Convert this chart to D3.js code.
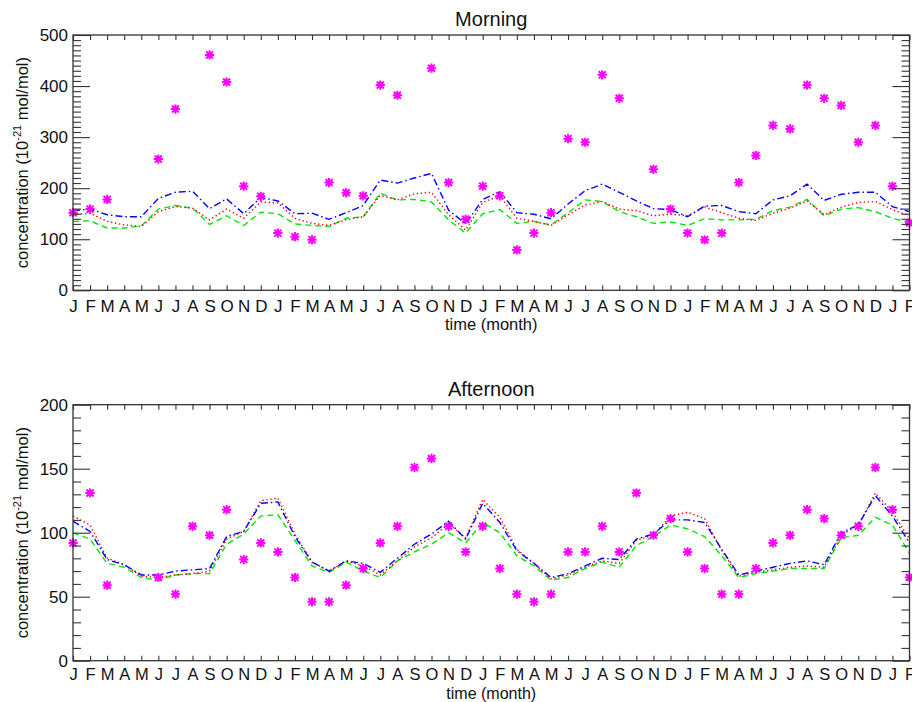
<!DOCTYPE html>
<html>
<head>
<meta charset="utf-8">
<script src="https://cdn.jsdelivr.net/npm/d3@7"></script>
<style>
  html, body { margin: 0; padding: 0; background: #fff; }
  svg { display: block; font-family: "Liberation Sans", Arial, Helvetica, sans-serif; }
</style>
</head>
<body>
<svg id="chart" width="912" height="702"></svg>
<script>
// Month tick labels, Jan of year 1 through Feb of year 5
const monthLabels = [
  "J","F","M","A","M","J","J","A","S","O","N","D",
  "J","F","M","A","M","J","J","A","S","O","N","D",
  "J","F","M","A","M","J","J","A","S","O","N","D",
  "J","F","M","A","M","J","J","A","S","O","N","D",
  "J","F"
];

// Morning: observations (null = no measurement) and three model runs
const morningObs = [152,159,178,null,null,257,355,null,461,408,204,184,112,105,99,211,191,185,402,382,null,435,211,139,204,185,79,112,152,297,290,422,376,null,237,159,112,99,112,211,264,323,316,402,376,362,290,323,204,132];
const morningBlue = [156,159,148,144,144,180,192,194,160,179,150,182,175,150,151,139,152,166,216,210,220,229,157,130,178,193,152,149,140,169,195,208,192,175,160,158,144,165,166,154,150,177,185,208,176,188,192,192,164,154];
const morningRed = [148,151,135,128,125,154,164,161,138,159,141,173,171,141,131,127,138,144,186,177,189,192,148,118,172,185,141,135,127,148,167,174,159,156,146,149,146,163,152,141,137,151,161,175,148,163,172,174,158,146];
const morningGreen = [135,136,122,122,126,159,166,161,129,146,127,153,150,130,127,125,141,144,190,177,178,173,138,112,150,158,131,135,128,152,177,174,154,144,131,134,127,140,138,138,139,156,163,178,146,159,162,154,141,133];

// Afternoon
const afternoonObs = [92,131,59,null,null,65,52,105,98,118,79,92,85,65,46,46,59,72,92,105,151,158,105,85,105,72,52,46,52,85,85,105,85,131,98,111,85,72,52,52,72,92,98,118,111,98,105,151,118,65];
const afternoonBlue = [109,101,79,75,67,67,70,71,72,97,101,123,124,97,77,70,78,76,69,80,91,99,109,95,123,108,86,76,65,68,74,80,79,95,99,110,110,108,87,67,70,73,76,78,75,100,106,129,113,92];
const afternoonRed = [113,106,80,75,66,65,67,68,70,95,101,125,127,99,77,70,78,74,67,78,89,96,107,96,126,112,87,76,64,67,73,78,76,94,98,113,116,111,86,66,69,71,73,74,73,98,106,131,116,95];
const afternoonGreen = [100,95,76,73,65,63,67,68,68,91,99,113,114,94,74,69,77,70,65,78,85,91,100,92,108,100,82,74,63,65,72,77,73,90,97,106,103,97,82,65,68,70,72,72,72,96,98,112,106,84];

const svg = d3.select("#chart");
const left = 73, right = 909.5;
const frameColor = "#333";

const x = d3.scaleLinear().domain([0, monthLabels.length - 1]).range([left, right]);

function panel(cfg) {
  const { top, bottom, yMax, major, title, monthPad, monthSize, xLabelGap, xLabelSize,
          obs, blue, red, green } = cfg;
  const y = d3.scaleLinear().domain([0, yMax]).range([bottom, top]);
  const g = svg.append("g");
  const idx = d3.range(monthLabels.length);
  const minor = d3.range(0, yMax + 1, 10).filter(v => v % major !== 0);
  const majorVals = d3.range(0, yMax + 1, major);

  // clip area for the model lines
  const clipId = "clip-" + title;
  svg.append("clipPath").attr("id", clipId)
    .append("rect").attr("x", left).attr("y", top).attr("width", right - left + 6).attr("height", bottom - top);

  // model lines
  const line = d3.line().x((d, i) => x(i)).y(d => y(d));
  const series = [
    { data: green, color: "#00e600", dash: "6,4" },
    { data: red, color: "#ff0000", dash: "1.4,2.6" },
    { data: blue, color: "#0000ff", dash: "7,3,1.5,3" }
  ];
  g.append("g").attr("clip-path", `url(#${clipId})`)
    .selectAll("path").data(series).join("path")
    .attr("d", s => line(s.data))
    .attr("fill", "none")
    .attr("stroke", s => s.color)
    .attr("stroke-width", 1.4)
    .attr("stroke-dasharray", s => s.dash);

  // observations as asterisks
  const star = "M-3.6,0H3.6M0,-3.6V3.6M-2.8,-2.8L2.8,2.8M-2.8,2.8L2.8,-2.8";
  g.append("g").selectAll("path")
    .data(idx.filter(i => obs[i] != null))
    .join("path")
    .attr("transform", i => `translate(${x(i)},${y(obs[i])})`)
    .attr("d", star)
    .attr("fill", "none")
    .attr("stroke", "#ff00ff")
    .attr("stroke-linecap", "square")
    .attr("stroke-width", 2);

  // axes: ticks point inward on all four sides
  const styleAxis = (size) => sel => {
    sel.select(".domain").remove();
    sel.selectAll("line").attr("stroke", frameColor).attr("stroke-width", 1.1);
    sel.selectAll("text").attr("fill", "#111").style("font-size", size + "px");
  };

  g.append("g").attr("transform", `translate(0,${bottom})`)
    .call(d3.axisBottom(x).tickValues(idx).tickSize(-5).tickPadding(monthPad)
      .tickFormat(i => monthLabels[i]))
    .call(styleAxis(monthSize));
  g.append("g").attr("transform", `translate(0,${top})`)
    .call(d3.axisTop(x).tickValues(idx).tickSize(-5).tickFormat(""))
    .call(styleAxis(17));

  g.append("g").attr("transform", `translate(${left},0)`)
    .call(d3.axisLeft(y).tickValues(majorVals).tickSize(-17).tickPadding(5).tickFormat(d3.format("d")))
    .call(styleAxis(17));
  g.append("g").attr("transform", `translate(${left},0)`)
    .call(d3.axisLeft(y).tickValues(minor).tickSize(-8).tickFormat(""))
    .call(styleAxis(17));
  g.append("g").attr("transform", `translate(${right},0)`)
    .call(d3.axisRight(y).tickValues(majorVals).tickSize(-17).tickFormat(""))
    .call(styleAxis(17));
  g.append("g").attr("transform", `translate(${right},0)`)
    .call(d3.axisRight(y).tickValues(minor).tickSize(-8).tickFormat(""))
    .call(styleAxis(17));

  // frame
  g.append("rect")
    .attr("x", left).attr("y", top)
    .attr("width", right - left).attr("height", bottom - top)
    .attr("fill", "none").attr("stroke", frameColor).attr("stroke-width", 1.3);

  // title
  g.append("text")
    .attr("x", (left + right) / 2).attr("y", top - 9)
    .attr("text-anchor", "middle")
    .style("font-size", "20px").attr("fill", "#111")
    .text(title);

  // x label
  g.append("text")
    .attr("x", (left + right) / 2).attr("y", bottom + xLabelGap)
    .attr("text-anchor", "middle")
    .style("font-size", xLabelSize + "px").attr("fill", "#111")
    .text("time (month)");

  // y label with superscript exponent
  const yl = g.append("text")
    .attr("transform", `translate(28,${(top + bottom) / 2}) rotate(-90)`)
    .attr("text-anchor", "middle")
    .style("font-size", "16.5px").attr("fill", "#111");
  yl.append("tspan").text("concentration (10");
  yl.append("tspan").attr("dy", -7).style("font-size", "11px").text("-21");
  yl.append("tspan").attr("dy", 7).text(" mol/mol)");
}

panel({ top: 35, bottom: 290.3, yMax: 500, major: 100, title: "Morning",
  monthPad: 9.5, monthSize: 17, xLabelGap: 39.5, xLabelSize: 16.5,
  obs: morningObs, blue: morningBlue, red: morningRed, green: morningGreen });
panel({ top: 404.7, bottom: 660.7, yMax: 200, major: 50, title: "Afternoon",
  monthPad: 8, monthSize: 16.5, xLabelGap: 37.8, xLabelSize: 16,
  obs: afternoonObs, blue: afternoonBlue, red: afternoonRed, green: afternoonGreen });
</script>
</body>
</html>
